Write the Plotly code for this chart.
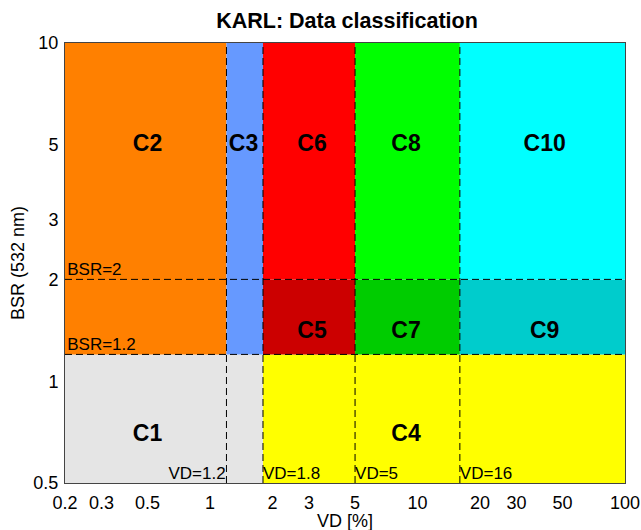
import math
import plotly.graph_objects as go

# Class boundaries
vd_breaks = [0.2, 1.2, 1.8, 5, 16, 100]
bsr_breaks = [0.5, 1.2, 2, 10]

# Classes: name, vd range, bsr range, colour
class_names = ["C1", "C2", "C3", "C4", "C5", "C6", "C7", "C8", "C9", "C10"]
class_vd0 = [0.2, 0.2, 1.2, 1.8, 1.8, 1.8, 5, 5, 16, 16]
class_vd1 = [1.8, 1.2, 1.8, 100, 5, 5, 16, 16, 100, 100]
class_bsr0 = [0.5, 1.2, 1.2, 0.5, 1.2, 2, 1.2, 2, 1.2, 2]
class_bsr1 = [1.2, 10, 10, 1.2, 2, 10, 2, 10, 2, 10]
class_colors = ["#E5E5E5", "#FF8000", "#6699FF", "#FFFF00", "#CC0000",
                "#FF0000", "#00CC00", "#00FF00", "#00CCCC", "#00FFFF"]
label_vd = [0.5, 0.5, 1.45, 8.8, 3.1, 3.1, 8.8, 8.8, 41, 41]
label_bsr = [0.69, 5, 5, 0.69, 1.4, 5, 1.4, 5, 1.4, 5]

x_ticks = [0.2, 0.3, 0.5, 1, 2, 3, 5, 10, 20, 30, 50, 100]
y_ticks = [0.5, 1, 2, 3, 5, 10]

W, H = 641, 530
L, R, T, B = 65, 16, 43, 47

fig = go.Figure()

for i in range(len(class_names)):
    x0, x1, y0, y1 = class_vd0[i], class_vd1[i], class_bsr0[i], class_bsr1[i]
    fig.add_trace(go.Scatter(
        x=[x0, x1, x1, x0, x0], y=[y0, y0, y1, y1, y0],
        mode="lines", fill="toself", fillcolor=class_colors[i],
        line=dict(width=0), hoverinfo="skip", showlegend=False))

dash = "7px,4px"
# dashed threshold lines
for b in bsr_breaks[1:3]:
    fig.add_trace(go.Scatter(x=[vd_breaks[0], vd_breaks[-1]], y=[b, b], mode="lines",
                             line=dict(color="black", width=1, dash=dash),
                             hoverinfo="skip", showlegend=False))
for v in vd_breaks[1:5]:
    fig.add_trace(go.Scatter(x=[v, v], y=[bsr_breaks[0], bsr_breaks[-1]], mode="lines",
                             line=dict(color="black", width=1, dash=dash),
                             hoverinfo="skip", showlegend=False))

# class labels
fig.add_trace(go.Scatter(x=label_vd, y=label_bsr, mode="text", text=class_names,
                         textfont=dict(family="Liberation Sans", size=23, color="black"),
                         texttemplate="<b>%{text}</b>",
                         hoverinfo="skip", showlegend=False))

# threshold texts
thr_font = dict(family="Liberation Sans", size=17, color="black")
fig.add_trace(go.Scatter(x=[0.205, 0.205], y=[2, 1.2], mode="text",
                         text=["BSR=2", "BSR=1.2"], textposition="top right",
                         textfont=thr_font, hoverinfo="skip", showlegend=False))
fig.add_trace(go.Scatter(x=[1.19], y=[0.5], mode="text", text=["VD=1.2"],
                         textposition="top left", textfont=thr_font,
                         hoverinfo="skip", showlegend=False))
fig.add_trace(go.Scatter(x=[1.8, 5, 16], y=[0.5, 0.5, 0.5], mode="text",
                         text=["VD=1.8", "VD=5", "VD=16"], textposition="top right",
                         textfont=thr_font, hoverinfo="skip", showlegend=False))

title_font = dict(family="Liberation Sans", size=18, color="black")
fig.add_annotation(text="VD [%]", xref="paper", yref="paper",
                   x=0.5, y=-(521 - (H - B)) / (H - T - B), xanchor="center", yanchor="middle",
                   showarrow=False, font=title_font)
fig.add_annotation(text="BSR (532 nm)", xref="paper", yref="paper",
                   x=-(L - 18) / (W - L - R), y=0.5, xanchor="center", yanchor="middle",
                   textangle=-90, showarrow=False, font=title_font)

fig.update_layout(
    width=W, height=H,
    margin=dict(l=L, r=R, t=T, b=B, autoexpand=False),
    paper_bgcolor="white", plot_bgcolor="white",
    font=dict(family="Liberation Sans", size=18, color="black"),
    title=dict(text="<b>KARL: Data classification</b>", x=347 / W, xanchor="center",
               y=1 - 20 / H, yanchor="middle",
               font=dict(family="Liberation Sans", size=21.5, color="black")),
    xaxis=dict(type="log", range=[math.log10(0.2), 2], tickvals=x_ticks,
               ticktext=[str(t) for t in x_ticks], showgrid=False, zeroline=False,
               showline=True, mirror=True, linecolor="#444", linewidth=1,
               ticks="", automargin=False, ticklabelstandoff=3,
               tickfont=dict(family="Liberation Sans", size=18)),
    yaxis=dict(type="log", range=[math.log10(0.5), 1], tickvals=y_ticks,
               ticktext=[str(t) for t in y_ticks], showgrid=False, zeroline=False,
               showline=True, mirror=True, linecolor="#444", linewidth=1,
               ticks="", automargin=False, ticklabelstandoff=2,
               tickfont=dict(family="Liberation Sans", size=18)),
)

fig.write_html("out.html")
